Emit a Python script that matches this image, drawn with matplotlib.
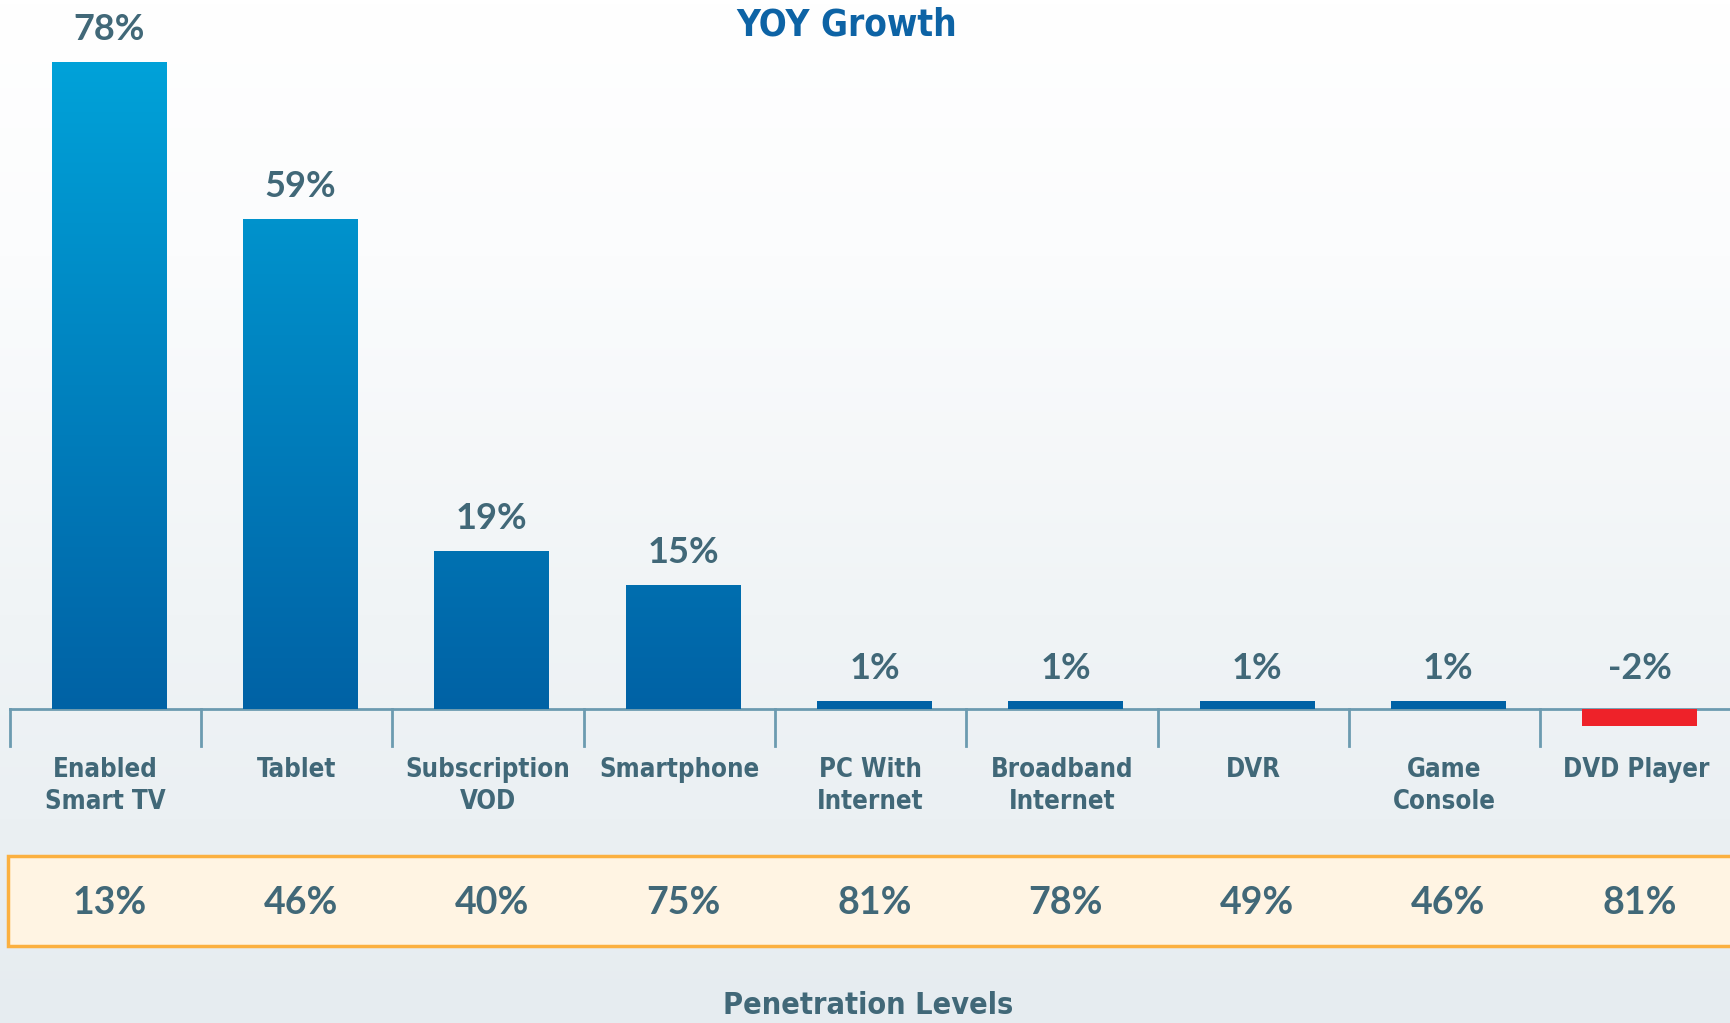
import numpy as np
import matplotlib.pyplot as plt
from matplotlib import font_manager as fm
from matplotlib.colors import LinearSegmentedColormap
from matplotlib.patches import Rectangle

categories = ["Enabled\nSmart TV", "Tablet", "Subscription\nVOD", "Smartphone",
              "PC With\nInternet", "Broadband\nInternet", "DVR", "Game\nConsole", "DVD Player"]
yoy_growth = [78, 59, 19, 15, 1, 1, 1, 1, -2]
penetration = [13, 46, 40, 75, 81, 78, 49, 46, 81]

W, H = 1731, 1023
TEXT = "#416878"
WIDE = ["Lato", "DejaVu Sans"]

# look for a condensed bold face, otherwise fall back on Roboto
narrow_file = None
for f in fm.fontManager.ttflist:
    s = (f.name + " " + f.fname).lower()
    if ("narrow" in s or "condensed" in s) and "italic" not in s and "oblique" not in s \
            and f.weight in (700, "bold"):
        narrow_file = f.fname
        break


def narrow(size):
    if narrow_file:
        return fm.FontProperties(fname=narrow_file, size=size)
    return fm.FontProperties(family="Roboto", weight="bold", size=size * 0.9)


fig = plt.figure(figsize=(W / 100, H / 100), dpi=100)
ax = fig.add_axes([0, 0, 1, 1])
ppu = 8.3          # pixels per percentage point
base_px = 709      # baseline, pixels from top
ax.set_ylim(-(H - base_px) / ppu, base_px / ppu)
ax.set_xlim(-0.571, 8.477)
ax.axis("off")


def fy(px):
    return 1 - px / H


# background gradient
bg = LinearSegmentedColormap.from_list("bg", [(0, "#ffffff"), (0.25, "#fbfcfd"),
                                              (0.6, "#f0f4f6"), (1, "#e6ecf0")])
ax.imshow(np.linspace(0, 1, 256).reshape(-1, 1), cmap=bg, aspect="auto",
          extent=(0, 1, 0, 1), transform=ax.transAxes, zorder=0)

# bars
barcmap = LinearSegmentedColormap.from_list("bar", ["#0062a5", "#00a2d9"])
xs = np.arange(len(categories))
ymax = max(yoy_growth)
grad = np.linspace(1, 0, 256).reshape(-1, 1)
bars = ax.bar(xs, yoy_growth, width=0.6, zorder=3)
for b, v in zip(bars, yoy_growth):
    if v < 0:
        b.set_facecolor("#ee2229")
    else:
        b.set_facecolor("none")
        im = ax.imshow(grad, cmap=barcmap, aspect="auto",
                       extent=(b.get_x(), b.get_x() + b.get_width(), 0, ymax), zorder=3)
        im.set_clip_path(b)

# axis line and separators
ax.plot([-0.52, 8.6], [0, 0], color="#6c9bb0", lw=2, zorder=2)
tick_len = (746 - base_px) / ppu
for i in range(len(categories) + 1):
    ax.plot([i - 0.52, i - 0.52], [0, -tick_len], color="#6c9bb0", lw=2, zorder=2)

# value labels (small and negative bars share one label height)
for x, v in zip(xs, yoy_growth):
    ax.text(x, max(v, 1) + 3.9, f"{v}%", ha="center", va="center", fontsize=26,
            fontweight="bold", color=TEXT, family=WIDE, zorder=4)

# category labels
xt = ax.get_xaxis_transform()
for x, lab in zip(xs, categories):
    for k, line in enumerate(lab.split("\n")):
        ax.text(x - 0.02, fy(777 + 32 * k), line, transform=xt, ha="center", va="baseline",
                fontproperties=narrow(18.5), color=TEXT)

# penetration box
box = Rectangle((-0.53, fy(946)), 10, fy(856) - fy(946), transform=xt,
                facecolor="#fff4e3", edgecolor="#fbb040", lw=2.5, zorder=2)
ax.add_patch(box)
for x, p in zip(xs, penetration):
    ax.text(x, fy(903), f"{p}%", transform=xt, ha="center", va="center", fontsize=27,
            fontweight="bold", color=TEXT, family=WIDE, zorder=4)

fig.text(847 / W, fy(25), "YOY Growth", ha="center", va="center",
         fontproperties=narrow(26.5), color="#0d63a5")
fig.text(868 / W, fy(1005), "Penetration Levels", ha="center", va="center",
         fontproperties=narrow(22), color=TEXT)

fig.savefig("out.png", dpi=100)
